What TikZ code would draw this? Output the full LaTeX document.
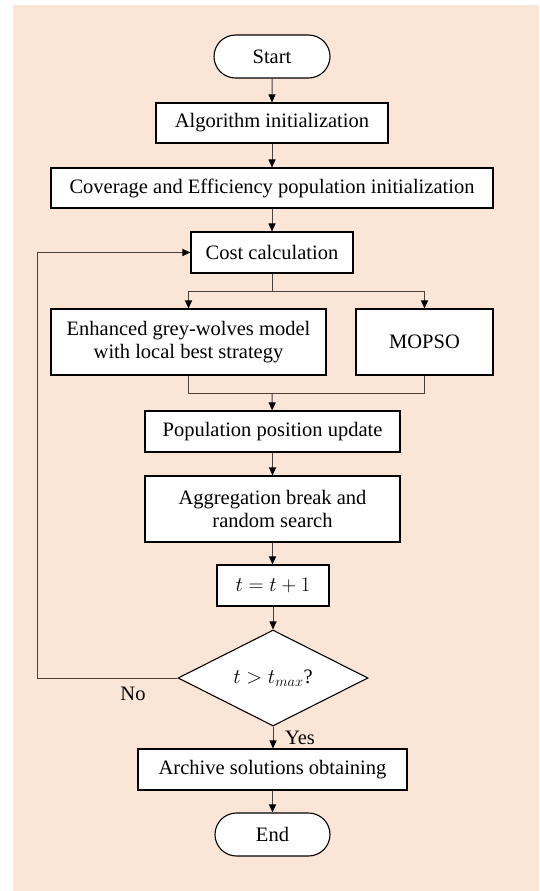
\documentclass[tikz,border=0pt]{standalone}
\usepackage{fontspec}
\setmainfont{Liberation Serif}
\usetikzlibrary{shapes.geometric,shapes.misc,arrows.meta}
\definecolor{bgpeach}{HTML}{FBE5D6}
\definecolor{conn}{HTML}{4A403C}
\tikzset{
  box/.style={draw=black, fill=white, line width=1.1pt, inner sep=2pt, align=center, font=\fontsize{20.5}{23.5}\selectfont},
  term/.style={box, rounded rectangle},
  decision/.style={box, diamond, inner sep=0pt},
  conn/.style={draw=conn, line width=1pt},
  arr/.style={conn, -{Triangle[length=8pt,width=7pt,fill=black,color=black]}},
  lbl/.style={font=\fontsize{20.5}{23.5}\selectfont, inner sep=0pt}
}
\begin{document}
\begin{tikzpicture}[x=1pt,y=-1pt]
\useasboundingbox (0,0) rectangle (539,891);
\fill[bgpeach] (13,5) rectangle (539,891);
\node[term, minimum width=120pt, minimum height=43pt] (start) at (272,56.5) {Start};
\node[box, minimum width=232pt, minimum height=40pt] (alg) at (272,123) {Algorithm initialization};
\node[box, minimum width=442pt, minimum height=40pt] (cov) at (272,188) {Coverage and Efficiency population initialization};
\node[box, minimum width=162pt, minimum height=41pt] (cost) at (272,252.5) {Cost calculation};
\node[box, minimum width=275pt, minimum height=66pt] (egw) at (188.5,342) {Enhanced grey-wolves model\\with local best strategy};
\node[box, minimum width=137pt, minimum height=66pt] (mopso) at (424.5,342) {MOPSO};
\node[box, minimum width=255pt, minimum height=41pt] (pop) at (272.5,431.5) {Population position update};
\node[box, minimum width=255pt, minimum height=66pt] (agg) at (272.5,509) {Aggregation break and\\random search};
\node[box, minimum width=112pt, minimum height=41pt] (tt) at (273,585.5) {$t=t+1$};
\node[decision, minimum width=190pt, minimum height=96pt] (dia) at (273,678) {$t>t_{max}$?};
\node[box, minimum width=269pt, minimum height=41pt] (arch) at (272.5,769.5) {Archive solutions obtaining};
\node[term, minimum width=119pt, minimum height=43pt] (end) at (272.5,834.5) {End};
\coordinate (split) at (272,291);
\coordinate (merge) at (272,393);
\coordinate (loop) at (37,678);
\draw[arr] (start) -- (alg);
\draw[arr] (alg) -- (cov);
\draw[arr] (cov) -- (cost);
\draw[conn] (cost) -- (split);
\draw[arr] (split) -| (egw);
\draw[arr] (split) -| (mopso);
\draw[conn] (egw) |- (merge);
\draw[conn] (mopso) |- (merge);
\draw[arr] (merge) -- (pop);
\draw[arr] (pop) -- (agg);
\draw[arr] (agg.south) -- (agg.south |- tt.north);
\draw[arr] (tt.south) -- (tt.south |- dia.north);
\draw[arr] (dia.south) -- (dia.south |- arch.north);
\draw[arr] (arch.south) -- (arch.south |- end.north);
\draw[arr] (dia.west) -- (loop) |- (cost.west);
\node[lbl] (no) at (133,694) {No};
\node[lbl] (yes) at (300,738) {Yes};
\end{tikzpicture}
\end{document}
